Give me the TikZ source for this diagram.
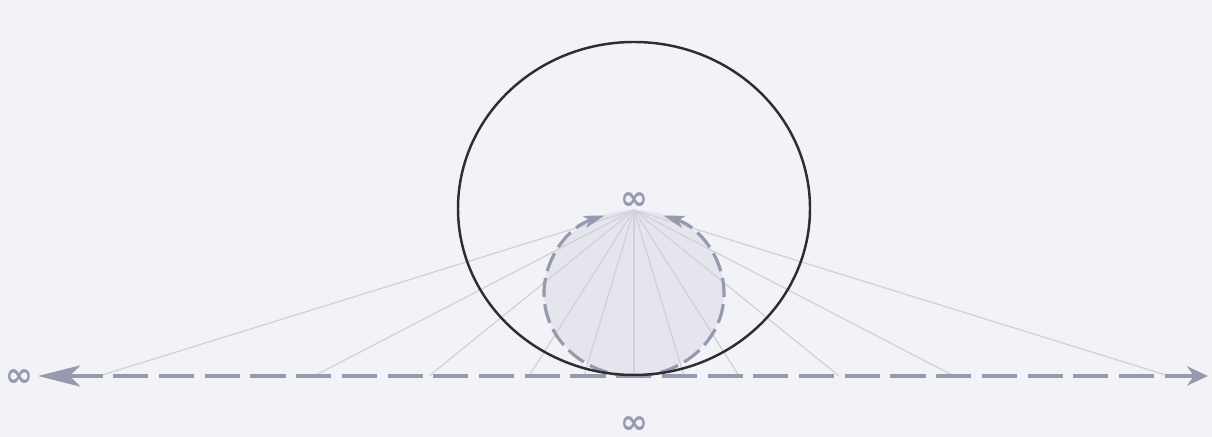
\documentclass[tikz,border=0pt]{standalone}
\usepackage{fontspec}
\usetikzlibrary{arrows.meta, positioning, calc}
\newfontfamily\inffont{DejaVu Sans}
\definecolor{projgray}{RGB}{152,152,174}
\definecolor{discfill}{RGB}{229,229,237}
\definecolor{raygray}{RGB}{208,209,217}
\definecolor{paper}{RGB}{242,243,246}
\definecolor{inkdark}{RGB}{45,45,50}

\begin{document}
\begin{tikzpicture}[
        x=0.01cm, y=0.01cm,
        inf/.style={text=projgray, font=\inffont\bfseries\fontsize{9.5}{9.5}\selectfont, inner sep=0pt},
        ray/.style={raygray, line width=0.35pt},
        axisline/.style={projgray, line width=1.3pt, dash pattern=on 10pt off 3pt,
            {Stealth[length=12pt, width=6pt, inset=3pt]}-{Stealth[length=6pt, width=5.5pt, inset=2pt]}},
        circlearc/.style={projgray, line width=0.9pt, dash pattern=on 5.5pt off 2pt,
            -{Stealth[length=6pt, width=3.5pt, inset=1.5pt]}},
        bigcircle/.style={inkdark, line width=0.7pt}
    ]
        \fill[paper] (0,0) rectangle (1212,437);
        \useasboundingbox (0,0) rectangle (1212,437);

        \coordinate (N) at (634,227);
        \coordinate (S) at (634,61);
        \coordinate (L) at (38,61);
        \coordinate (R) at (1208,61);

        \fill[discfill] (634,144.5) ellipse [x radius=90, y radius=82.5];

        \foreach \dx [count=\i] in {-535,-320,-205,-105,-50,0,50,105,205,320,535} {
            \coordinate (p\i) at ($(S)+(\dx,0)$);
            \draw[ray] (N) -- (p\i);
        }

        \draw[circlearc] (S) arc[start angle=-90, end angle=71, x radius=90, y radius=82.5];
        \draw[circlearc] (S) arc[start angle=270, end angle=109, x radius=90, y radius=82.5];

        \draw[axisline] (L) -- (R);

        \draw[bigcircle] (634,228.5) ellipse [x radius=176, y radius=166.5];

        \node[inf, above=0pt of N] (topinf) {∞};
        \node[inf] (leftinf) at (19,59) {∞};
        \node[inf] (botinf) at (634,12) {∞};
    \end{tikzpicture}
\end{document}
